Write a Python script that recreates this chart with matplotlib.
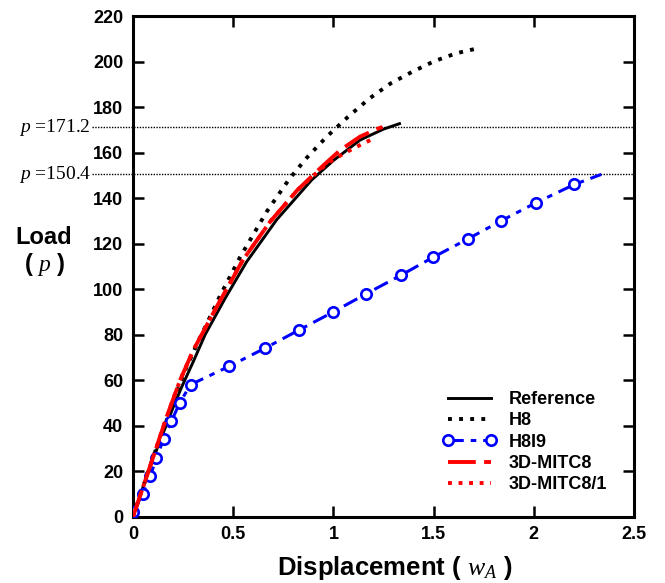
import matplotlib
matplotlib.use("Agg")
import matplotlib.pyplot as plt
from matplotlib.lines import Line2D

plt.rcParams['font.family'] = ['Liberation Sans', 'DejaVu Sans']
plt.rcParams['font.weight'] = 'bold'
plt.rcParams['mathtext.fontset'] = 'custom'
plt.rcParams['mathtext.it'] = 'Liberation Serif:style=italic:weight=normal'
plt.rcParams['mathtext.rm'] = 'Liberation Serif:weight=normal'
plt.rcParams['lines.scale_dashes'] = False

# reference solution
ref_x = [0, 0.05, 0.1, 0.143, 0.2, 0.243, 0.3, 0.36, 0.46, 0.567, 0.717, 0.892, 1.0, 1.133, 1.25, 1.33]
ref_y = [0, 13, 25.5, 35, 48, 57, 68, 80, 96, 112, 130.5, 148, 156.5, 165.5, 170.3, 172.7]

# H8
h8_x = [0, 0.05, 0.1, 0.15, 0.235, 0.268, 0.326, 0.434, 0.534, 0.667, 0.78, 0.867, 0.967,
        1.073, 1.179, 1.286, 1.394, 1.502, 1.612, 1.72]
h8_y = [0, 13, 26, 38, 58.6, 66, 77, 97, 114, 134, 148.4, 157.7, 167,
        175.7, 183.7, 190.4, 195.5, 200.1, 203.6, 205.8]

# H8I9
h8i9_x = [0.0, 0.048, 0.087, 0.117, 0.153, 0.192, 0.233, 0.287, 0.478, 0.658, 0.828, 1.0,
          1.165, 1.335, 1.498, 1.67, 1.837, 2.012, 2.203, 2.337]
h8i9_y = [2, 10, 18, 26, 34, 42, 50, 58, 66, 74, 82, 90,
          98, 106, 114, 122, 130, 138, 146, 150.4]

# 3D-MITC8
mitc_x = [0, 0.05, 0.1, 0.168, 0.235, 0.3, 0.418, 0.55, 0.684, 0.82, 0.933, 1.033, 1.133, 1.224, 1.245]
mitc_y = [0, 13, 26, 43.9, 60, 73, 92.3, 113, 129.6, 143.5, 153, 161, 167, 170.6, 171.2]

# 3D-MITC8/1
mitc1_x = [0, 0.05, 0.1, 0.168, 0.235, 0.3, 0.418, 0.55, 0.684, 0.82, 0.933, 1.0, 1.091, 1.149, 1.205]
mitc1_y = [0, 13, 26, 43.9, 60, 73, 92.3, 113, 129.6, 143.5, 152.5, 157, 161.4, 164, 166.3]

limit_loads = [171.2, 150.4]
limit_labels = ['$p$ =171.2', '$p$ =150.4']

fig = plt.figure(figsize=(6.65, 5.83), dpi=100)
ax = fig.add_axes([133/665, 1-516.7/583, 501/665, 500.7/583])

for p in limit_loads:
    ax.axhline(p, xmin=-0.082, xmax=1, color='black', lw=1.0,
               linestyle=(0, (1.0, 1.0)), clip_on=False, zorder=1)
for p, lab in zip(limit_loads, limit_labels):
    ax.annotate(lab, xy=(-0.084, p), xycoords=('axes fraction', 'data'),
                ha='right', va='center', fontsize=14, fontweight='normal',
                family='Liberation Serif', annotation_clip=False)

ax.plot(ref_x, ref_y, color='black', lw=2.1, label='Reference', zorder=3)
ax.plot(h8_x, h8_y, color='black', lw=2.8, linestyle=(0, (2.8, 5.2)), label='H8', zorder=3)
ax.plot(h8i9_x[:-1], h8i9_y[:-1], color='blue', lw=2.2, linestyle='none',
        marker='o', ms=7.5, mfc='white', mec='blue', mew=1.9, zorder=4)
ax.plot(h8i9_x, h8i9_y, color='blue', lw=2.2, linestyle=(0, (11, 5, 4, 5)), zorder=3)
ax.plot(mitc_x, mitc_y, color='red', lw=2.8, linestyle=(0, (20, 6)), label='3D-MITC8', zorder=5)
ax.plot(mitc1_x, mitc1_y, color='red', lw=2.8, linestyle=(0, (2.8, 4.8)), label='3D-MITC8/1', zorder=5)

# legend handle for H8I9 (line + markers)
handles, labels = ax.get_legend_handles_labels()
h8i9_handle = Line2D([], [], color='blue', lw=2.2, linestyle=(0, (11, 5, 4, 5)),
                     marker='o', ms=7.5, mfc='white', mec='blue', mew=1.9)
handles.insert(2, h8i9_handle)
labels.insert(2, 'H8I9')
ax.legend(handles, labels, loc='lower left', bbox_to_anchor=(0.617, 0.047),
          frameon=False, fontsize=13, handlelength=3.0, handletextpad=0.7,
          labelspacing=0.24, borderpad=0, borderaxespad=0, numpoints=2)

ax.set_xlim(0, 2.5)
ax.set_ylim(0, 220)
ax.set_xticks([0, 0.5, 1, 1.5, 2, 2.5])
ax.set_xticklabels(['0', '0.5', '1', '1.5', '2', '2.5'])
ax.set_yticks(range(0, 221, 20))
ax.tick_params(direction='in', length=8, width=1.8, top=True, right=True,
               labelsize=13, pad=7)
for s in ax.spines.values():
    s.set_linewidth(2.2)

ax.set_xlabel(r'Displacement ( $w_A$ )', fontsize=18.5, fontweight='bold')
ax.xaxis.set_label_coords(0.523, -0.075)
fig.text(44/665, 1-237/583, 'Load', ha='center', va='center', fontsize=17)
fig.text(45/665, 1-265/583, r'( $p$ )', ha='center', va='center', fontsize=17)

fig.savefig('out.png', dpi=100)
